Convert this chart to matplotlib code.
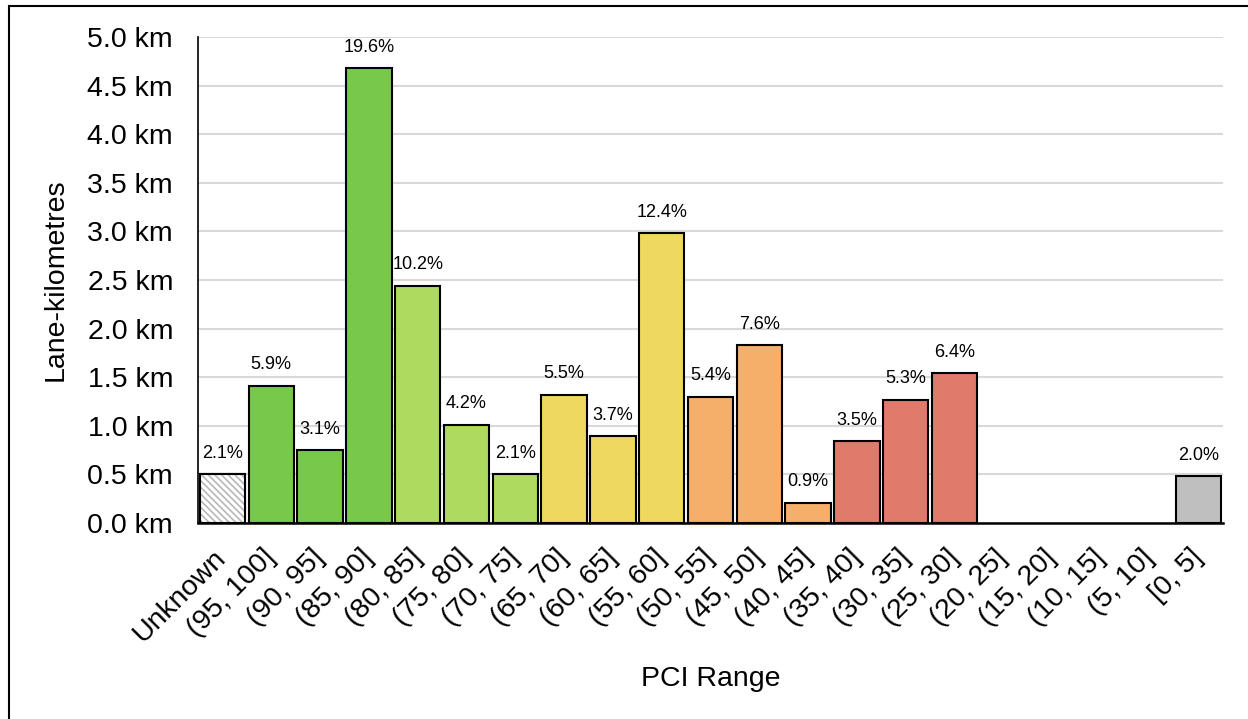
import matplotlib
matplotlib.use('Agg')
import matplotlib.pyplot as plt
from matplotlib.patches import Rectangle
from matplotlib.ticker import FuncFormatter

plt.rcParams['font.family'] = ['Liberation Sans', 'DejaVu Sans']
plt.rcParams['hatch.linewidth'] = 1.2

# PCI ranges and lane-km per range
ranges = ['Unknown', '(95, 100]', '(90, 95]', '(85, 90]', '(80, 85]', '(75, 80]',
          '(70, 75]', '(65, 70]', '(60, 65]', '(55, 60]', '(50, 55]', '(45, 50]',
          '(40, 45]', '(35, 40]', '(30, 35]', '(25, 30]', '(20, 25]', '(15, 20]',
          '(10, 15]', '(5, 10]', '[0, 5]']
lane_km = [0.50, 1.41, 0.75, 4.68, 2.44, 1.01, 0.50, 1.32, 0.89, 2.98, 1.30, 1.83,
           0.21, 0.84, 1.27, 1.54, 0, 0, 0, 0, 0.48]
pct_labels = ['2.1%', '5.9%', '3.1%', '19.6%', '10.2%', '4.2%', '2.1%', '5.5%', '3.7%',
              '12.4%', '5.4%', '7.6%', '0.9%', '3.5%', '5.3%', '6.4%', '', '', '', '', '2.0%']
bar_colors = ['white', '#78c94a', '#78c94a', '#78c94a', '#aedb5f', '#aedb5f', '#aedb5f',
              '#eed860', '#eed860', '#eed860', '#f6ae6b', '#f6ae6b', '#f6ae6b',
              '#e07b6c', '#e07b6c', '#e07b6c', '#d9534f', '#d9534f', '#d9534f', '#d9534f',
              '#bfbfbf']

FS = 20.5

fig = plt.figure(figsize=(12.48, 7.19), dpi=100)
ax = fig.add_axes([0.1587, 0.2726, 0.8213, 0.6759])

x = list(range(len(ranges)))
bars = ax.bar(x, lane_km, width=0.93, color=bar_colors, edgecolor='black', linewidth=1.5, zorder=3)
for b, v in zip(bars, lane_km):
    if v == 0:
        b.set_visible(False)

# grey hatch for the unknown bar, black outline drawn over it
ax.bar(x[0], lane_km[0], width=0.93, color='white', edgecolor='#b8b8b8',
       hatch='\\\\\\\\\\', linewidth=0, zorder=3.5)
ax.bar(x[0], lane_km[0], width=0.93, fill=False, edgecolor='black', linewidth=1.5, zorder=3.6)

for xi, v, lab in zip(x, lane_km, pct_labels):
    if lab:
        ax.annotate(lab, (xi, v), xytext=(0, 9), textcoords='offset points',
                    ha='center', va='bottom', fontsize=13)

ax.set_xlim(-0.5, len(ranges) - 0.5)
ax.set_ylim(0, 5.0)
ax.set_yticks([i * 0.5 for i in range(11)])
ax.yaxis.set_major_formatter(FuncFormatter(lambda v, p: f'{v:.1f} km'))
ax.grid(axis='y', color='#d9d9d9', linewidth=1.5, zorder=0)
ax.set_axisbelow(True)

for s in ['top', 'right']:
    ax.spines[s].set_visible(False)
ax.spines['left'].set_linewidth(1.2)
ax.spines['bottom'].set_linewidth(1.8)
ax.spines['left'].set_zorder(4)
ax.spines['bottom'].set_zorder(4)

ax.set_xticks(x)
ax.set_xticklabels(ranges, rotation=45, ha='right', va='center', rotation_mode='anchor', fontsize=FS)
ax.tick_params(axis='x', length=0, pad=22)
ax.tick_params(axis='y', length=0, pad=18, labelsize=FS)

ax.set_ylabel('Lane-kilometres', fontsize=FS)
ax.yaxis.set_label_coords(-0.126, 0.5)
ax.set_xlabel('PCI Range', fontsize=FS)
ax.xaxis.set_label_coords(0.5, -0.295)

# outer border
fig.patches.append(Rectangle((9 / 1248, -0.05), 1.2, 1 - 6 / 719 + 0.05,
                             transform=fig.transFigure, fill=False,
                             edgecolor='black', linewidth=1.5))

fig.savefig('out.png', dpi=100)
